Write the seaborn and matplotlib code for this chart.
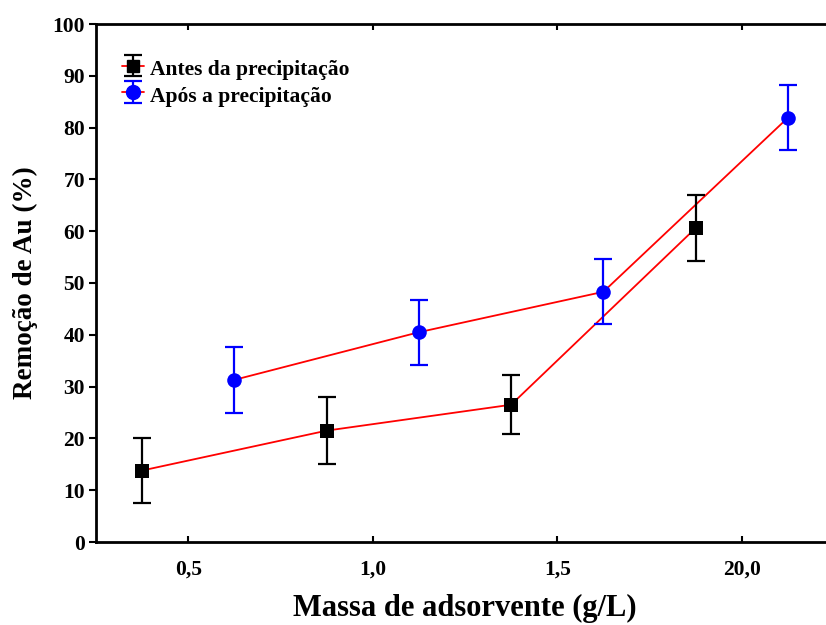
import numpy as np
import pandas as pd
import matplotlib
matplotlib.use("Agg")
import matplotlib.pyplot as plt
import seaborn as sns
from matplotlib.legend_handler import HandlerTuple

# Adsorbent mass positions and gold removal (%) with error bars
x_antes = [0.375, 0.875, 1.375, 1.875]
y_antes = [13.8, 21.5, 26.5, 60.6]
err_antes = [6.3, 6.4, 5.7, 6.3]

x_apos = [0.625, 1.125, 1.625, 2.125]
y_apos = [31.3, 40.5, 48.3, 81.9]
err_apos = [6.3, 6.3, 6.3, 6.3]

series_names = ["Antes da precipitação", "Após a precipitação"]
xtick_vals = [0.5, 1.0, 1.5, 2.0]
xtick_labels = ["0,5", "1,0", "1,5", "20,0"]
ytick_vals = list(range(0, 101, 10))

sns.set_theme(style="white")
plt.rcParams["font.family"] = ["Liberation Serif", "DejaVu Serif"]
plt.rcParams["font.weight"] = "bold"
plt.rcParams["text.color"] = "black"
plt.rcParams["axes.labelcolor"] = "black"
plt.rcParams["xtick.color"] = "black"
plt.rcParams["ytick.color"] = "black"

df = pd.concat([
    pd.DataFrame({"x": x_antes, "y": y_antes, "err": err_antes, "serie": series_names[0]}),
    pd.DataFrame({"x": x_apos, "y": y_apos, "err": err_apos, "serie": series_names[1]}),
])

fig = plt.figure(figsize=(8.26, 6.25), dpi=100)
ax = fig.add_axes([96 / 826, 83 / 625, (834 - 96) / 826, (542 - 24) / 625])

# connecting red lines
sns.lineplot(data=df, x="x", y="y", hue="serie", palette={series_names[0]: "red", series_names[1]: "red"},
             linewidth=1.3, legend=False, ax=ax, zorder=2, sort=False)

colors = {series_names[0]: "black", series_names[1]: "blue"}
markers = {series_names[0]: "s", series_names[1]: "o"}

handles = []
for name in series_names:
    sub = df[df["serie"] == name]
    eb = ax.errorbar(sub["x"], sub["y"], yerr=sub["err"], fmt="none", ecolor=colors[name],
                     elinewidth=1.6, capsize=6.5, capthick=1.6, zorder=3)
    proxy_line = plt.Line2D([], [], color="red", linewidth=1.3)
    proxy_mark = plt.Line2D([], [], linestyle="none", marker=markers[name],
                            markersize=9 if name == series_names[0] else 10,
                            markerfacecolor=colors[name], markeredgecolor=colors[name])
    handles.append((proxy_line, eb, proxy_mark))

sns.scatterplot(data=df[df["serie"] == series_names[0]], x="x", y="y", marker="s", s=95,
                color="black", edgecolor="black", linewidth=0, ax=ax, zorder=4, legend=False)
sns.scatterplot(data=df[df["serie"] == series_names[1]], x="x", y="y", marker="o", s=110,
                color="blue", edgecolor="blue", linewidth=0, ax=ax, zorder=4, legend=False)

ax.set_xlim(0.25, 2.25)
ax.set_ylim(0, 100)
ax.set_xticks(xtick_vals)
ax.set_xticklabels(xtick_labels)
ax.set_yticks(ytick_vals)

for s in ["left", "bottom", "top"]:
    ax.spines[s].set_visible(True)
    ax.spines[s].set_color("black")
    ax.spines[s].set_linewidth(2.0)
ax.spines["right"].set_visible(False)

ax.tick_params(axis="x", direction="in", top=True, bottom=True, length=4, width=1.5,
               pad=13, labelsize=15.5, colors="black")
ax.tick_params(axis="y", direction="out", left=True, length=5, width=1.5,
               pad=3, labelsize=15.5, colors="black")
for lbl in ax.get_xticklabels() + ax.get_yticklabels():
    lbl.set_fontweight("bold")

ax.set_xlabel("Massa de adsorvente (g/L)", fontsize=22, fontweight="bold", labelpad=10)
ax.set_ylabel("Remoção de Au (%)", fontsize=19.5, fontweight="bold", labelpad=10)

leg = ax.legend(handles, series_names, handler_map={tuple: HandlerTuple(ndivide=1)},
                loc="upper left", bbox_to_anchor=(0.009, 0.976), frameon=False,
                handlelength=1.0, handleheight=1.4, handletextpad=0.3, labelspacing=0.08,
                prop={"family": "Liberation Serif", "weight": "bold", "size": 15.5})

fig.savefig("out.png", dpi=100)
